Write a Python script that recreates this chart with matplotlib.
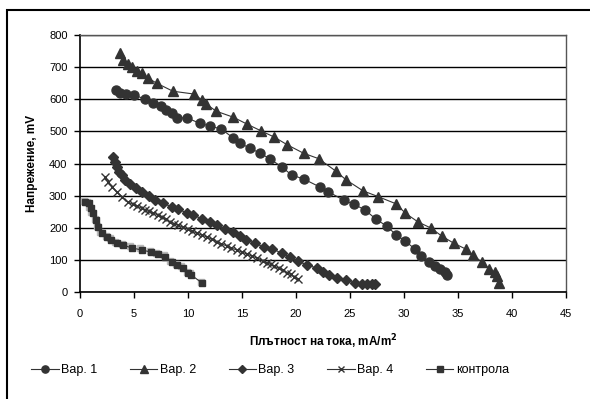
import matplotlib
matplotlib.use("Agg")
import matplotlib.pyplot as plt
import matplotlib.transforms as mtransforms
from matplotlib.patches import Rectangle

plt.rcParams['font.family'] = ['Liberation Sans', 'DejaVu Sans']

# Вар. 1
x1 = [3.3, 3.7, 4.3, 5.0, 6.0, 6.8, 7.5, 8.0, 8.5, 9.0, 9.9, 11.1, 12.0, 13.1,
      14.2, 14.8, 15.7, 16.7, 17.6, 18.7, 19.6, 20.7, 22.2, 23.0, 24.4, 25.4,
      26.4, 27.4, 28.4, 29.3, 30.1, 31.0, 31.6, 32.3, 32.9, 33.3, 33.8, 34.0]
y1 = [629, 619, 616, 613, 601, 589, 579, 567, 557, 542, 542, 525, 517, 507,
      479, 464, 448, 432, 414, 389, 364, 352, 327, 312, 286, 273,
      255, 227, 205, 177, 159, 134, 112, 93, 81, 72, 62, 53]

# Вар. 2
x2 = [3.7, 4.0, 4.4, 4.8, 5.3, 5.7, 6.3, 7.1, 8.6, 10.6, 11.3, 11.7, 12.6, 14.2,
      15.5, 16.8, 18.0, 19.2, 20.7, 22.1, 23.7, 24.6, 26.2, 27.6, 29.3, 30.1,
      31.3, 32.5, 33.5, 34.6, 35.7, 36.4, 37.2, 37.9, 38.4, 38.6, 38.8]
y2 = [743, 721, 709, 700, 687, 681, 666, 650, 625, 616, 597, 585, 563, 544,
      522, 501, 482, 458, 432, 415, 376, 350, 315, 297, 274, 246,
      218, 199, 174, 152, 134, 115, 93, 72, 62, 50, 28]

# Вар. 3
x3 = [3.1, 3.2, 3.4, 3.6, 3.9, 4.2, 4.6, 5.2, 5.7, 6.4, 6.9, 7.7, 8.5, 9.1, 9.9,
      10.5, 11.3, 12.0, 12.7, 13.4, 14.2, 14.8, 15.4, 16.2, 17.0, 17.8, 18.7,
      19.4, 20.2, 21.0, 21.9, 22.5, 23.1, 23.8, 24.6, 25.5, 26.1, 26.6, 27.0, 27.3]
y3 = [420, 404, 389, 373, 364, 348, 336, 323, 311, 299, 286, 277, 264, 258, 246,
      240, 227, 218, 208, 196, 187, 174, 162, 152, 140, 134, 121,
      109, 96, 84, 75, 62, 53, 44, 37, 28, 25, 25, 25, 25]

# Вар. 4
x4 = [2.3, 2.6, 3.0, 3.4, 3.9, 4.4, 4.9, 5.3, 5.7, 6.0, 6.4, 6.8, 7.2, 7.6, 8.0,
      8.3, 8.7, 9.1, 9.5, 10.0, 10.4, 10.8, 11.3, 11.8, 12.2, 12.7, 13.1, 13.6,
      14.0, 14.5, 15.0, 15.5, 15.9, 16.4, 16.9, 17.3, 17.7, 18.0, 18.4, 18.8,
      19.2, 19.5, 19.8, 20.2]
y4 = [358, 342, 327, 311, 296, 280, 273, 267, 261, 255, 251, 246, 240, 233, 226,
      218, 213, 208, 202, 196, 190, 183, 177, 171, 164, 156, 150, 143,
      137, 131, 124, 118, 112, 106, 98, 90, 86, 80, 74, 68,
      60, 55, 48, 40]

# контрола
x5 = [0.5, 0.8, 1.0, 1.2, 1.5, 1.7, 2.0, 2.5, 2.9, 3.4, 4.0, 4.8, 5.7, 6.6, 7.2,
      7.9, 8.5, 9.0, 9.5, 10.0, 10.3, 11.3]
y5 = [280, 277, 261, 245, 224, 202, 183, 171, 162, 152, 146, 137, 131, 124, 118,
      109, 93, 84, 75, 59, 53, 28]

labels = ['Вар. 1', 'Вар. 2', 'Вар. 3', 'Вар. 4', 'контрола']
xticks = [0, 5, 10, 15, 20, 25, 30, 35, 40, 45]
yticks = [0, 100, 200, 300, 400, 500, 600, 700, 800]

dark = '#333333'
fig = plt.figure(figsize=(5.9, 3.99), dpi=100)
ax = fig.add_axes([80 / 590, 1 - 292 / 399, 486 / 590, 257 / 399])

ax.plot(x1, y1, color=dark, lw=0.8, marker='o', ms=6.5, mfc=dark, mec=dark,
        label=labels[0], zorder=4)
ax.plot(x2, y2, color=dark, lw=0.8, marker='^', ms=7.5, mfc=dark, mec=dark,
        label=labels[1], zorder=4)
ax.plot(x3, y3, color=dark, lw=0.8, marker='D', ms=5.5, mfc=dark, mec=dark,
        label=labels[2], zorder=4)
ax.plot(x4, y4, color=dark, lw=0.8, marker='x', ms=6, mew=1.0, mec=dark,
        label=labels[3], zorder=4)

# shadow for the control squares
shadow = mtransforms.offset_copy(ax.transData, fig=fig, x=-1.5, y=1.5, units='dots')
ax.plot(x5, y5, ls='none', marker='s', ms=5, mfc='#bbbbbb', mec='#bbbbbb',
        transform=shadow, zorder=3)
ax.plot(x5, y5, color=dark, lw=0.8, marker='s', ms=5, mfc=dark, mec=dark,
        label=labels[4], zorder=4)

ax.set_xlim(0, 45)
ax.set_ylim(0, 800)
ax.set_xticks(xticks)
ax.set_yticks(yticks)
ax.yaxis.grid(True, color='black', lw=1.0)
ax.set_axisbelow(True)
for s in ['top', 'right']:
    ax.spines[s].set_color('#555555')
    ax.spines[s].set_linewidth(1.0)
for s in ['left', 'bottom']:
    ax.spines[s].set_linewidth(1.2)
ax.tick_params(direction='out', length=4, width=1, labelsize=8, pad=5)
ax.tick_params(axis='x', pad=8)

ax.set_xlabel('Плътност на тока, mA/m$^\\mathbf{2}$', fontsize=8.5,
              fontweight='bold', labelpad=10)
ax.set_ylabel('Напрежение, mV', fontsize=8.5, fontweight='bold', labelpad=8)

fig.legend(loc='center', bbox_to_anchor=(270 / 590, 1 - 370 / 399), ncol=5,
           frameon=False, fontsize=9, handlelength=2.2, columnspacing=2.6,
           handletextpad=0.2, markerscale=0.8)

fig.patches.append(Rectangle((7 / 590, -0.1), 1.2, 1 - 10 / 399 + 0.1,
                             transform=fig.transFigure, fill=False,
                             ec='black', lw=1.5))

fig.savefig('out.png', dpi=100)
